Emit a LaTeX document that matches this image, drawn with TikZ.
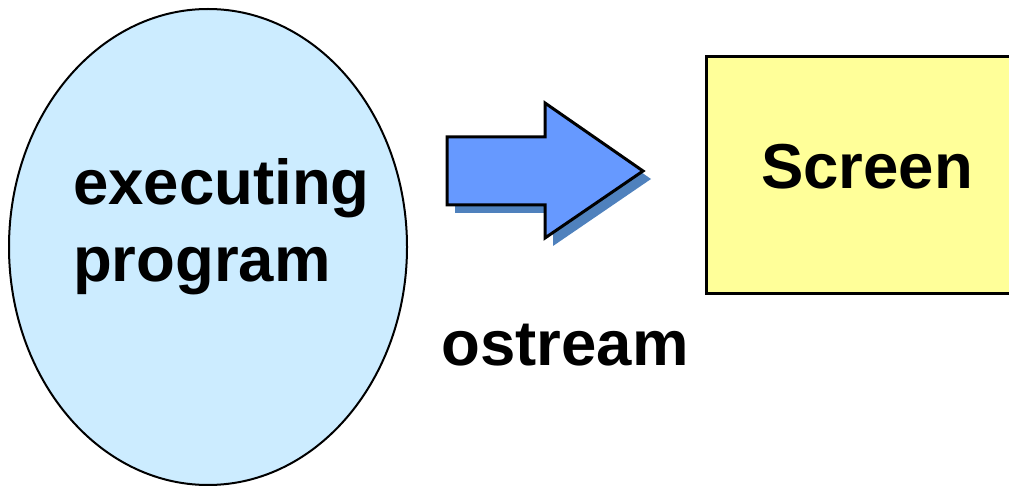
\documentclass[tikz,border=0pt]{standalone}
\usepackage{fontspec}
\setmainfont{Liberation Sans}
\begin{document}
\begin{tikzpicture}[x=1pt,y=-1pt,
  bigtext/.style={font=\fontsize{63.5}{76}\selectfont\bfseries, inner sep=0pt, text=black},
  arrowshape/.style={fill=arrowblue, draw=black, line width=3pt, line join=miter},
  shadowshape/.style={fill=shadowblue, draw=none}]
\definecolor{ellfill}{HTML}{CCECFF}
\definecolor{arrowblue}{HTML}{6699FF}
\definecolor{shadowblue}{HTML}{4F81BD}
\definecolor{scrfill}{HTML}{FFFF99}
\useasboundingbox (0,0) rectangle (1009,486);
\clip (0,0) rectangle (1009,486);
% ellipse
\draw[fill=ellfill, line width=2pt] (208,247) ellipse [x radius=199, y radius=238];
\node[bigtext, anchor=base west] (exec) at (73,205) {executing};
\node[bigtext, anchor=base west] (prog) at (73,282) {program};
% arrow shadow
\path[shadowshape] (455,145) -- (553,145) -- (553,111) -- (651,179) -- (553,246) -- (553,213) -- (455,213) -- cycle;
% arrow
\draw[arrowshape] (447,137) -- (545,137) -- (545,103) -- (643,171) -- (545,238) -- (545,205) -- (447,205) -- cycle;
% screen
\draw[fill=scrfill, line width=3pt] (706,57) rectangle (1030,294);
\node[bigtext, anchor=base] (scr) at (867,189) {Screen};
% label
\node[bigtext, anchor=base] (os) at (565,365) {ostream};
\end{tikzpicture}
\end{document}
